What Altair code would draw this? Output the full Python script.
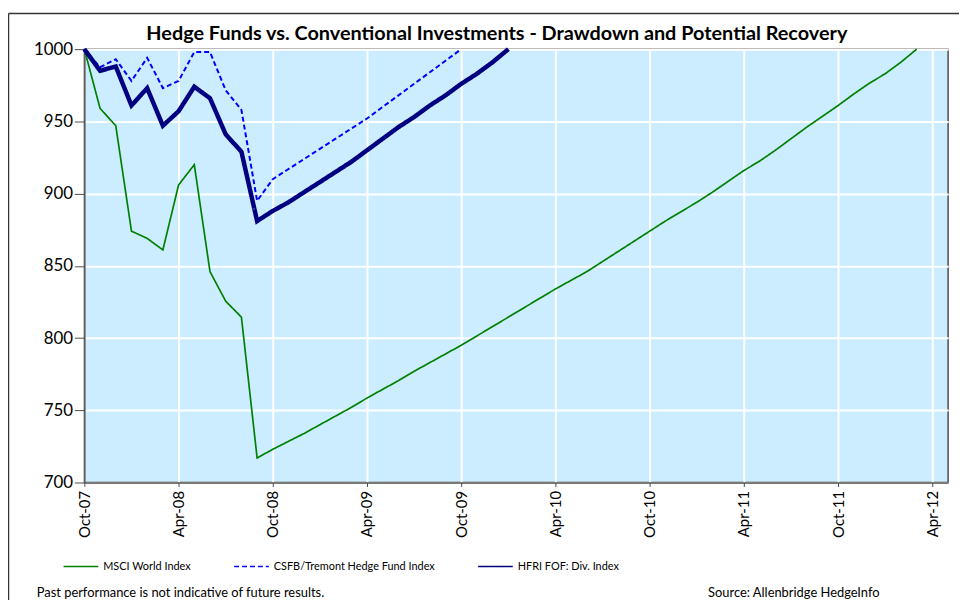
import altair as alt
import pandas as pd

# ---- data (monthly, index 0 = Oct-07) ----
tick_labels = ["Oct-07", "Apr-08", "Oct-08", "Apr-09", "Oct-09",
               "Apr-10", "Oct-10", "Apr-11", "Oct-11", "Apr-12"]
series_names = ["MSCI World Index", "CSFB/Tremont Hedge Fund Index", "HFRI FOF: Div. Index"]

msci = [1000, 959, 947, 874, 869, 861, 906, 920, 846, 825.5, 814.5, 717,
        723, 728.5, 734, 740, 746, 752, 758.5, 764.5, 770.5, 777, 783, 789,
        795, 801.5, 808, 814.5, 821, 827.5, 834, 840, 846, 853, 860, 867,
        874, 881, 887.5, 894, 901, 908.5, 916, 922.5, 930, 938, 946, 953.5,
        961, 969, 976.5, 983, 991, 1000]
csfb = [1000, 987.5, 993, 978, 994, 973, 978, 998, 998, 971.5, 958, 895,
        910, 917, 924, 931, 938, 945, 952, 960, 968, 976, 984, 992, 1000]
hfri = [1000, 985, 988, 961, 973, 947, 957, 974, 966, 941, 929, 881,
        888, 894, 901, 908, 915, 922, 930, 938, 946, 953, 961, 968, 976,
        983, 991, 1000]

title_text = "Hedge Funds vs. Conventional  Investments - Drawdown and Potential Recovery"
note_text = "Past performance is not indicative of future results."
source_text = "Source: Allenbridge HedgeInfo"

colors = ["#008000", "#0000FF", "#000080"]
dashes = [[1, 0], [5, 3], [1, 0]]
widths = [1.7, 2, 4.5]

rows = []
for name, vals in zip(series_names, [msci, csfb, hfri]):
    for i, v in enumerate(vals):
        rows.append({"series": name, "month": i, "value": v})
df = pd.DataFrame(rows)

label_expr = "[" + ",".join("'" + t + "'" for t in tick_labels) + "][datum.value / 6]"

FONT = "Lato"

legend = alt.Legend(
    orient="none", legendX=-22, legendY=503, direction="horizontal", title=None,
    symbolType="stroke", symbolSize=1225, symbolStrokeWidth=1.5,
    labelFont=FONT, labelFontSize=11, labelColor="black", labelLimit=400,
    columnPadding=40, labelOffset=4,
)

x_enc = alt.X("month:Q", title=None,
              scale=alt.Scale(domain=[0, 55], nice=False, zero=False),
              axis=alt.Axis(values=list(range(0, 55, 6)), labelExpr=label_expr,
                            labelAngle=270, labelFontSize=15, labelFont=FONT,
                            labelColor="black", labelPadding=4, tickSize=4,
                            grid=True, gridColor="white", gridWidth=2,
                            domainColor="#4d4d4d", domainWidth=1.5,
                            tickColor="#4d4d4d"))
y_enc = alt.Y("value:Q", title=None,
              scale=alt.Scale(domain=[700, 1000], nice=False, zero=False),
              axis=alt.Axis(values=list(range(700, 1001, 50)), format="d",
                            labelFontSize=17, labelFont=FONT, labelColor="black",
                            labelPadding=2, tickSize=10, grid=True,
                            gridColor="white", gridWidth=2,
                            domainColor="#4d4d4d", domainWidth=1.5,
                            tickColor="#4d4d4d"))
color_enc = alt.Color("series:N", scale=alt.Scale(domain=series_names, range=colors),
                      legend=legend)
dash_enc = alt.StrokeDash("series:N", scale=alt.Scale(domain=series_names, range=dashes),
                          legend=legend)

line_layers = []
for name, w in zip(series_names, widths):
    line_layers.append(
        alt.Chart(df).transform_filter(alt.datum.series == name)
        .mark_line(strokeWidth=w)
        .encode(x=x_enc, y=y_enc, color=color_enc, strokeDash=dash_enc,
                order=alt.Order("month:Q"))
    )

one = pd.DataFrame({"k": [0]})
frame_left = alt.Chart(one).mark_rule(color="#333333", strokeWidth=1.5).encode(
    x=alt.value(-76.5), y=alt.value(-36), y2=alt.value(700))
frame_top = alt.Chart(one).mark_rule(color="#333333", strokeWidth=1.5).encode(
    x=alt.value(-76.5), x2=alt.value(1000), y=alt.value(-36))

title_mark = alt.Chart(one).mark_text(
    align="center", baseline="alphabetic", font=FONT, fontSize=20,
    fontWeight="bold", color="black"
).encode(x=alt.value(416), y=alt.value(-9), text=alt.value(title_text))

note_left = alt.Chart(one).mark_text(
    align="left", baseline="alphabetic", font=FONT, fontSize=13, color="black"
).encode(x=alt.value(-48), y=alt.value(552), text=alt.value(note_text))
note_right = alt.Chart(one).mark_text(
    align="left", baseline="alphabetic", font=FONT, fontSize=13, color="black"
).encode(x=alt.value(629), y=alt.value(552), text=alt.value(source_text))

chart = alt.layer(*line_layers, frame_left, frame_top, title_mark,
                  note_left, note_right).properties(
    width=871, height=437,
    background="white",
    autosize=alt.AutoSizeParams(type="none"),
    padding={"left": 77, "top": 39, "right": 11, "bottom": 116},
).configure_view(
    fill="#CCECFF", stroke="#4d4d4d", strokeWidth=1.5
)

chart.save("out.html", embed_options={"renderer": "svg", "actions": False})
